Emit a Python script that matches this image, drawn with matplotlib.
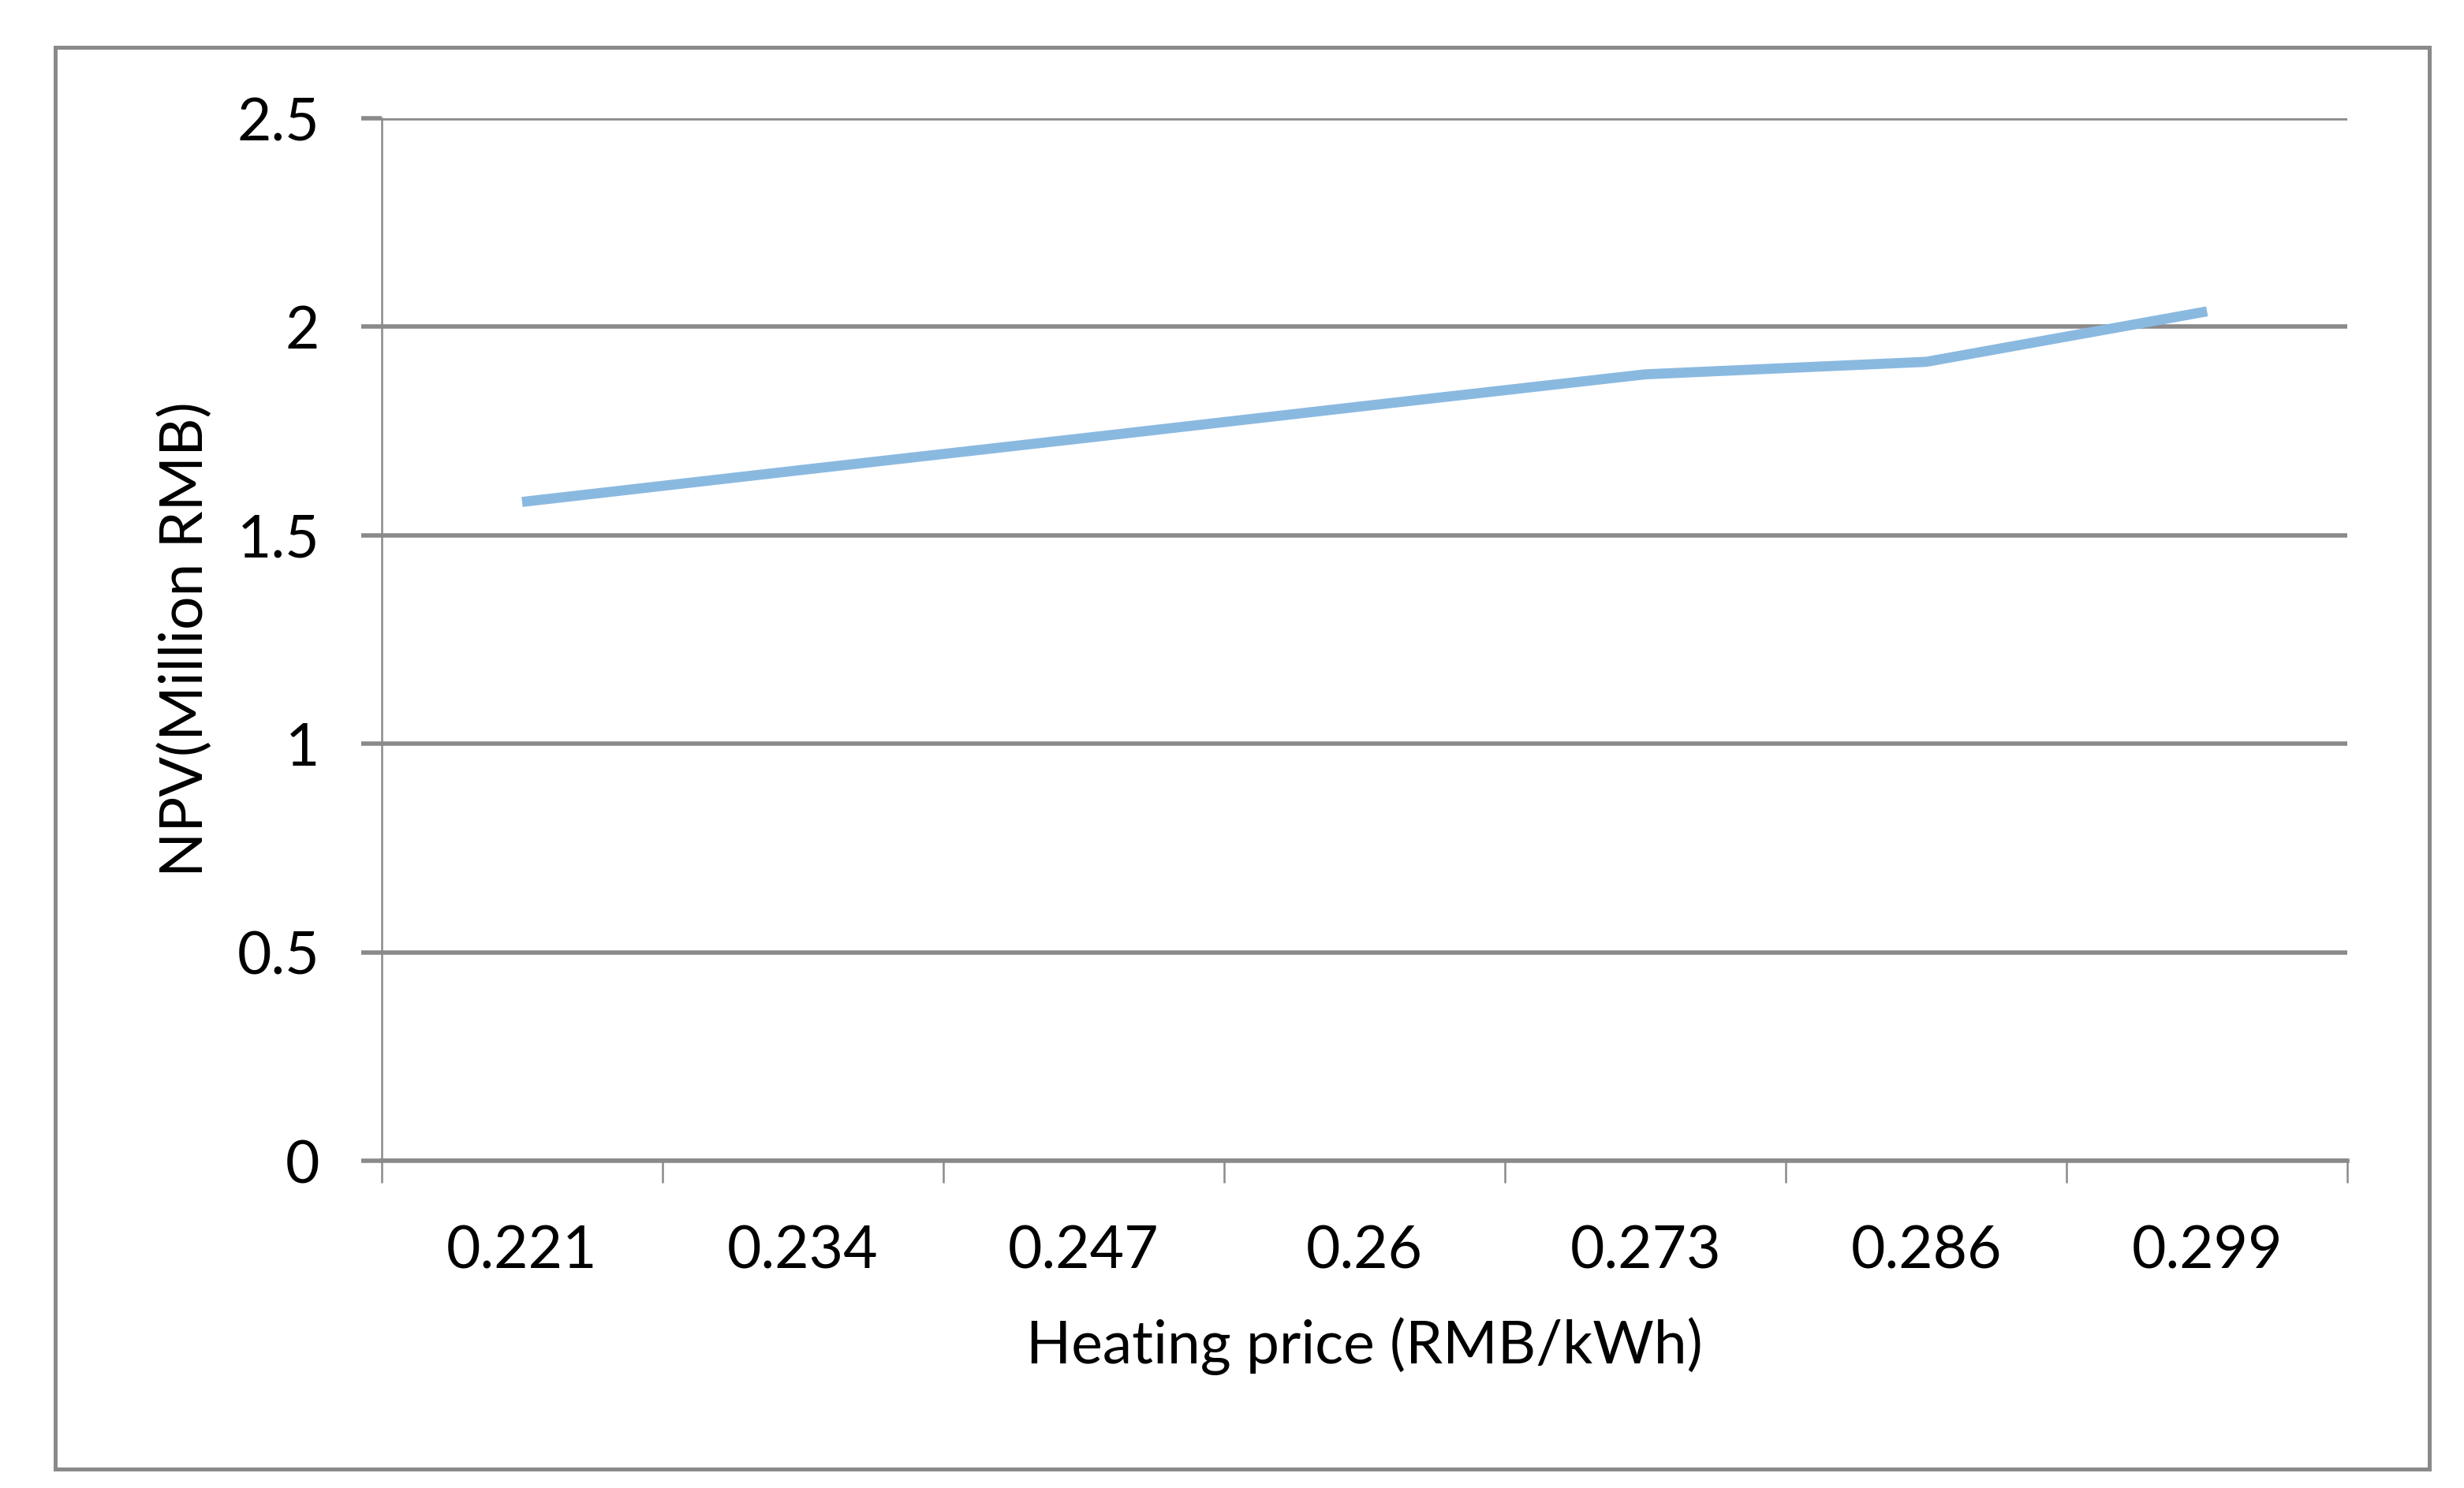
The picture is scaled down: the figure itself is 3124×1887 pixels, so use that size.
import matplotlib
matplotlib.use("Agg")
import matplotlib.pyplot as plt
from matplotlib.patches import Rectangle
import numpy as np

# data
prices = ["0.221", "0.234", "0.247", "0.26", "0.273", "0.286", "0.299"]
npv = [1.58, 1.657, 1.733, 1.81, 1.886, 1.916, 2.037]
y_ticks = [0, 0.5, 1, 1.5, 2, 2.5]
y_tick_labels = ["0", "0.5", "1", "1.5", "2", "2.5"]

plt.rcParams['font.family'] = ['Lato', 'DejaVu Sans']
grey = "#8a8a8a"
fs = 27

fig = plt.figure(figsize=(15.62, 9.435), dpi=200)
ax = fig.add_axes([0.1549, 0.2199, 0.7978, 0.7006])

# outer chart border
fig.patches.append(Rectangle((0.0224, 0.0125), 0.9635, 0.9557, transform=fig.transFigure,
                             fill=False, edgecolor=grey, linewidth=1.8))

x = np.arange(len(prices))
ax.plot(x, npv, color="#8ab9e0", linewidth=4.6, solid_capstyle="butt", zorder=3)

ax.set_xlim(-0.5, len(prices) - 0.5)
ax.set_ylim(0, 2.5)

# horizontal gridlines
ax.set_yticks(y_ticks)
ax.set_yticklabels(y_tick_labels, fontsize=fs)
ax.yaxis.grid(True, color=grey, linewidth=2.0)
ax.tick_params(axis="y", length=9.4, width=2.0, color=grey, pad=19)

# category boundaries get tick marks, labels sit at centres
ax.set_xticks(np.arange(-0.5, len(prices), 1.0))
ax.set_xticklabels([""] * (len(prices) + 1))
ax.set_xticks(x, minor=True)
ax.set_xticklabels(prices, minor=True, fontsize=fs)
ax.tick_params(axis="x", which="major", length=10, width=0.9, color=grey)
ax.tick_params(axis="x", which="minor", length=10, width=0, pad=19)

for s in ["top", "right"]:
    ax.spines[s].set_visible(False)
ax.spines["left"].set_color(grey)
ax.spines["left"].set_linewidth(0.9)
ax.spines["bottom"].set_color(grey)
ax.spines["bottom"].set_linewidth(2.0)
ax.set_axisbelow(True)

ax.set_xlabel("Heating price (RMB/kWh)", fontsize=fs)
ax.xaxis.label.set_va("center")
ax.xaxis.set_label_coords(0.5, -0.178)
ax.set_ylabel("NPV(Million RMB)", fontsize=fs)
ax.yaxis.label.set_va("center")
ax.yaxis.set_label_coords(-0.0998, 0.5)

fig.savefig("out.png", dpi=200)
